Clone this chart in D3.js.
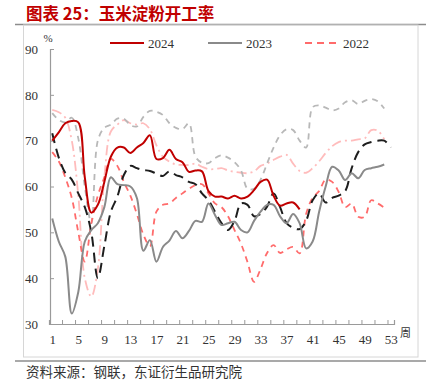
<!DOCTYPE html>
<html>
<head>
<meta charset="utf-8">
<script src="https://cdn.jsdelivr.net/npm/d3@7"></script>
<style>
  body { margin: 0; background: #fff; }
  svg text { font-family: "Liberation Serif", "Times New Roman", serif; }
</style>
</head>
<body>
<div id="chart"></div>
<script>
// week numbers and tick labels
var weeks = d3.range(1, 54);
var xLabels = [1, 5, 9, 13, 17, 21, 25, 29, 33, 37, 41, 45, 49, 53];
var yTicks = [30, 40, 50, 60, 70, 80, 90];

// operating rate by week (%)
var y2024 = [70, 71.8, 73.8, 74.3, 74, 62, 54.3, 56, 61, 66.5, 68.5, 68.5, 67.3, 68.5, 69.5, 71.2,
  66, 66.2, 68, 66, 65.3, 63.2, 63.5, 63.3, 59, 57.8, 57.8, 57.4, 58, 57.4, 57.8, 59.2, 61, 61.5,
  58, 55.8, 56.3, 56.5, 55];
var y2023 = [53, 48, 44.7, 32.3, 37, 48, 50.5, 52, 55.5, 62, 60.5, 60.3, 60, 57.5, 46, 48.3, 43.6,
  46.8, 48.2, 50.3, 48.7, 50.3, 52.5, 52.3, 56.3, 53.8, 51.6, 52, 52.3, 50.5, 50, 52.5, 54.5, 56,
  56, 53.5, 52, 54, 52, 46.5, 48, 54.5, 60, 64.3, 63.5, 61.4, 62.9, 61.8, 63.6, 64, 64.3, 64.8];
var y2022 = [67.5, 65.5, 62, 57.5, 50, 43.6, 52, 58, 62, 66, 64.5, 61, 58, 54, 49.5, 47, 54.5, 56,
  56.3, 57.5, 58.5, 59.5, 60.3, 60.5, 58.5, 56.3, 55.5, 53.5, 50.5, 47.5, 43.5, 39.2, 42, 45.5,
  47.2, 45.5, 46.3, 46.8, 45.4, 54, 57.5, 59, 61.5, 61, 58.8, 55.5, 56.3, 53.4, 53.4, 57, 56.3, 55.4];
var y2021 = [71.6, 66.3, 63, 61.5, 58.5, 55.5, 50, 40, 47, 54.5, 57.8, 62.5, 64.5, 64, 63.6, 63.4,
  62.8, 62.3, 63.3, 62.5, 62, 61, 60.5, 58.5, 57, 54.5, 52, 50.5, 52.5, 56.3, 56, 53.5, 54, 55.6,
  58.5, 55.5, 52, 51, 50.7, 52.5, 57, 58.5, 56.5, 57.5, 58, 59, 64, 67.5, 69.2, 69.7, 70, 70, 68.5];
var y2020 = [76, 74.5, 74, 75, 70.5, 60, 52, 70, 72.8, 73.5, 74.8, 74.8, 73.4, 73.1, 75.2, 76.5,
  76.3, 75.6, 73.8, 72.8, 72.5, 73.8, 66.5, 65.2, 65.1, 66.2, 66.8, 66.3, 65.3, 63.5, 59.5, 59.5,
  61.5, 65, 68.5, 71.2, 72.5, 72.3, 70, 68.5, 77.3, 77.7, 77.2, 76.6, 77, 78.4, 78.8, 78, 78.7,
  79.1, 78.6, 77];
var y2019 = [76.7, 76.2, 75, 70, 58, 40, 36, 42, 62, 72, 73.5, 74.5, 73.8, 73.5, 73.8, 72.5, 69,
  66.5, 65.4, 64.8, 64.7, 64.7, 65, 64.3, 63.8, 63.8, 64, 63.5, 63.2, 63, 62.9, 63.3, 64.5, 65,
  65.8, 66.5, 66.9, 65, 63.4, 63, 64, 65.5, 67.3, 68.8, 69.7, 70, 70, 70.3, 70.5, 72.3, 72.2, 70.3];

var series = [
  { name: "2019", values: y2019, color: "#ffbcbc", dash: "10,4,2,4", width: 1.8 },
  { name: "2020", values: y2020, color: "#b8b8b8", dash: "6,5", width: 1.8 },
  { name: "2022", values: y2022, color: "#ff6b6b", dash: "6,5", width: 1.8 },
  { name: "2021", values: y2021, color: "#1e1e1e", dash: "10,6", width: 2 },
  { name: "2023", values: y2023, color: "#8a8a8a", dash: null, width: 2 },
  { name: "2024", values: y2024, color: "#c00000", dash: null, width: 2 }
];
var legendItems = ["2024", "2023", "2022"];

var svgWidth = 426, svgHeight = 384;

var svg = d3.select("#chart").append("svg")
  .attr("width", svgWidth)
  .attr("height", svgHeight);

// title and frame
svg.append("text")
  .attr("x", 26).attr("y", 20)
  .style("font-family", "'Noto Sans CJK SC', sans-serif")
  .style("font-size", "16.5px")
  .style("font-weight", "bold")
  .style("fill", "#c00000")
  .text("图表 25：玉米淀粉开工率");

svg.append("line").attr("x1", 15).attr("x2", 426).attr("y1", 24.5).attr("y2", 24.5)
  .attr("stroke", "#8c8c8c").attr("stroke-width", 1.5);
svg.append("rect").attr("x", 23.5).attr("y", 25).attr("width", 394.5).attr("height", 332)
  .attr("fill", "none").attr("stroke", "#d6d6d6").attr("stroke-width", 1);
svg.append("line").attr("x1", 15).attr("x2", 426).attr("y1", 361).attr("y2", 361)
  .attr("stroke", "#8c8c8c").attr("stroke-width", 1.5);

svg.append("text")
  .attr("x", 26).attr("y", 377)
  .style("font-family", "'Noto Sans CJK SC', sans-serif")
  .style("font-size", "13.5px")
  .style("fill", "#333")
  .text("资料来源：钢联，东证衍生品研究院");

// scales
var xScale = d3.scaleLinear().domain([0.5, 53.5]).range([49, 394]);
var yScale = d3.scaleLinear().domain([30, 90]).range([324, 49]);

// x axis: ticks between weeks every 2, labels every 4 weeks
var xTickVals = d3.range(0.5, 54, 2);
svg.append("g")
  .attr("transform", "translate(0,324)")
  .call(d3.axisBottom(xScale).tickValues(xTickVals).tickSize(-4).tickFormat(""))
  .call(g => g.select(".domain").attr("stroke", "#9a9a9a").attr("stroke-width", 1.2))
  .call(g => g.selectAll(".tick line").attr("stroke", "#9a9a9a"));

svg.append("g")
  .attr("transform", "translate(0,324)")
  .call(d3.axisBottom(xScale).tickValues(xLabels).tickSize(0).tickPadding(11).tickFormat(d3.format("d")))
  .call(g => g.select(".domain").remove())
  .call(g => g.selectAll("text").style("font-size", "13px").style("fill", "#333")
    .style("font-family", "'Liberation Serif', serif"));

// y axis
svg.append("g")
  .attr("transform", "translate(50,0)")
  .call(d3.axisLeft(yScale).tickValues(yTicks).tickSize(-4).tickPadding(12).tickFormat(d3.format("d")))
  .call(g => g.select(".domain").attr("stroke", "#9a9a9a").attr("stroke-width", 1.2))
  .call(g => g.selectAll(".tick line").attr("stroke", "#9a9a9a"))
  .call(g => g.selectAll("text").style("font-size", "13px").style("fill", "#333")
    .style("font-family", "'Liberation Serif', serif"));

svg.append("text").attr("x", 48).attr("y", 42)
  .attr("text-anchor", "middle")
  .style("font-size", "11px").style("fill", "#333").text("%");
svg.append("text").attr("x", 400).attr("y", 337)
  .style("font-family", "'Noto Sans CJK SC', sans-serif")
  .style("font-size", "11px").style("fill", "#333").text("周");

// lines
var line = d3.line()
  .x((d, i) => xScale(weeks[i]))
  .y(d => yScale(d))
  .curve(d3.curveCatmullRom.alpha(0.5));

svg.selectAll(".series")
  .data(series)
  .enter()
  .append("path")
  .attr("class", "series")
  .attr("d", d => line(d.values))
  .attr("fill", "none")
  .attr("stroke", d => d.color)
  .attr("stroke-width", d => d.width)
  .attr("stroke-dasharray", d => d.dash);

// legend
var legendX = [110, 208, 305];
var legend = svg.selectAll(".legend")
  .data(legendItems.map(n => series.find(s => s.name === n)))
  .enter()
  .append("g")
  .attr("transform", (d, i) => `translate(${legendX[i]},43)`);

legend.append("line")
  .attr("x1", 0).attr("x2", 34).attr("y1", 0).attr("y2", 0)
  .attr("stroke", d => d.color)
  .attr("stroke-width", 2)
  .attr("stroke-dasharray", d => d.dash ? "7,5" : null);

legend.append("text")
  .attr("x", 38).attr("y", 4.5)
  .style("font-size", "13px").style("fill", "#333")
  .text(d => d.name);
</script>
</body>
</html>
